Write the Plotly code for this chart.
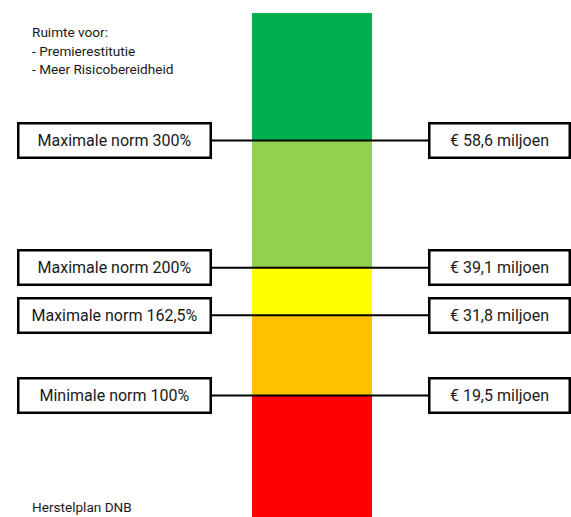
import plotly.graph_objects as go

# Data
norm_labels = ["Maximale norm 300%", "Maximale norm 200%", "Maximale norm 162,5%", "Minimale norm 100%"]
amount_labels = ["€ 58,6 miljoen", "€ 39,1 miljoen", "€ 31,8 miljoen", "€ 19,5 miljoen"]
levels = [58.6, 39.1, 31.8, 19.5]          # miljoen euro
bar_top = 78.1                              # 400% niveau
zone_colors = ["#00B050", "#92D050", "#FFFF00", "#FFC000", "#FF0000"]
top_text = ["Ruimte voor:", "- Premierestitutie", "- Meer Risicobereidheid"]
bottom_text = "Herstelplan DNB"

FONT = "Roboto"
bar_x = 312
bar_w = 120
left_cx, left_w = 114.5, 190
right_cx, right_w = 499.5, 138
line_x0, line_x1 = 212, 428

bounds = [bar_top] + levels + [0]
fig = go.Figure()
for i, col in enumerate(zone_colors):
    hi, lo = bounds[i], bounds[i + 1]
    fig.add_trace(go.Bar(x=[bar_x], y=[hi - lo], base=[lo], width=[bar_w],
                         marker=dict(color=col, line=dict(width=0)),
                         showlegend=False, hoverinfo="skip"))

for v in levels:
    fig.add_trace(go.Scatter(x=[line_x0, line_x1], y=[v, v], mode="lines",
                             line=dict(color="black", width=2),
                             showlegend=False, hoverinfo="skip"))

annotations = []
for lab, amt, v in zip(norm_labels, amount_labels, levels):
    for cx, w, t in [(left_cx, left_w, lab), (right_cx, right_w, amt)]:
        annotations.append(dict(
            x=cx, y=v, xref="x", yref="y", text=t, showarrow=False,
            width=w, height=32, borderwidth=2.5, bordercolor="black",
            borderpad=0, bgcolor="white", align="center", valign="middle",
            font=dict(family=FONT, size=16, color="#1a1a1a")))

for i, t in enumerate(top_text):
    annotations.append(dict(
        x=30, y=1 - (32 + i * 18.5) / 517, xref="x", yref="paper", text=t,
        showarrow=False, xanchor="left", yanchor="middle",
        font=dict(family=FONT, size=13.6, color="#1a1a1a")))
annotations.append(dict(
    x=30, y=1 - 507 / 517, xref="x", yref="paper", text=bottom_text,
    showarrow=False, xanchor="left", yanchor="middle",
    font=dict(family=FONT, size=13.6, color="#1a1a1a")))

fig.update_layout(
    width=571, height=517, margin=dict(l=0, r=0, t=0, b=0),
    paper_bgcolor="white", plot_bgcolor="white",
    barmode="overlay", bargap=0,
    xaxis=dict(range=[0, 571], visible=False, fixedrange=True),
    yaxis=dict(range=[0.86, 80.16], visible=False, fixedrange=True),
    annotations=annotations,
)

fig.write_html("out.html")
